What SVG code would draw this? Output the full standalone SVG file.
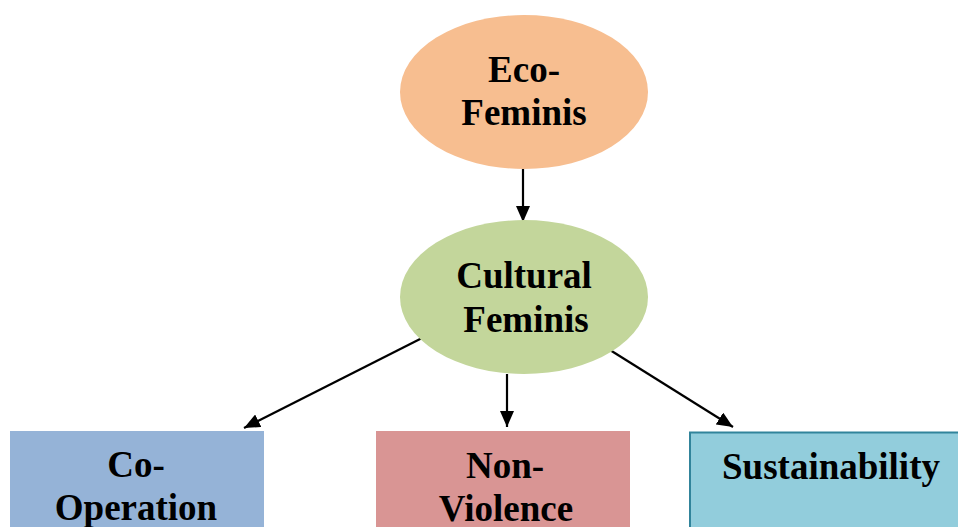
<svg xmlns="http://www.w3.org/2000/svg" width="958" height="527" viewBox="0 0 958 527">
<style>
text{font-family:"Liberation Serif","Times New Roman",serif;font-weight:bold;font-size:37px;fill:#000;text-anchor:middle}
.c{stroke:#000;stroke-width:2.2;fill:none}
</style>
<defs>
<marker id="ah" viewBox="0 0 16 14" refX="16" refY="7" markerWidth="16" markerHeight="14" markerUnits="userSpaceOnUse" orient="auto">
<path d="M0,0 L16,7 L0,14 Z" fill="#000"/>
</marker>
</defs>
<rect width="958" height="527" fill="#fff"/>
<g id="connectors">
<line class="c" x1="523" y1="169" x2="523" y2="222" marker-end="url(#ah)"/>
<line class="c" x1="428" y1="335" x2="244" y2="428" marker-end="url(#ah)"/>
<line class="c" x1="507" y1="374" x2="507" y2="427" marker-end="url(#ah)"/>
<line class="c" x1="610" y1="350" x2="733" y2="427" marker-end="url(#ah)"/>
</g>
<g id="eco">
<ellipse cx="524" cy="92" rx="124" ry="77" fill="#F7BE90"/>
<text x="524" y="82">Eco-</text>
<text x="524" y="125">Feminis</text>
</g>
<g id="cultural">
<ellipse cx="524" cy="297" rx="124" ry="77" fill="#C3D69B"/>
<text x="524" y="288">Cultural</text>
<text x="526" y="332">Feminis</text>
</g>
<g id="cooperation">
<rect x="10" y="431" width="254" height="100" fill="#95B3D7"/>
<text x="136" y="477">Co-</text>
<text x="136" y="520">Operation</text>
</g>
<g id="nonviolence">
<rect x="376" y="431" width="254" height="100" fill="#D99594"/>
<text x="505" y="478">Non-</text>
<text x="506" y="521">Violence</text>
</g>
<g id="sustainability">
<rect x="690" y="432.5" width="275" height="100" fill="#92CDDC" stroke="#31849B" stroke-width="2"/>
<text x="831" y="479">Sustainability</text>
</g>
</svg>
